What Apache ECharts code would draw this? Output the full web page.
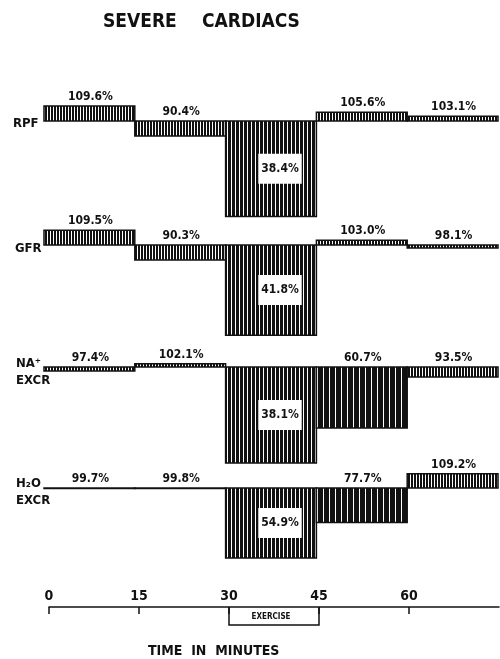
<!DOCTYPE html>
<html>
<head>
<meta charset="utf-8">
<script src="https://cdn.jsdelivr.net/npm/echarts@6/dist/echarts.min.js"></script>
<style>
  html, body { margin: 0; padding: 0; background: #fff; }
  #chart { width: 500px; height: 659px; }
</style>
</head>
<body>
<div id="chart"></div>
<script>
// time periods (minutes) and the measured % of control for each period
const timeEdges = [0, 15, 30, 45, 60, 75];
const timeTicks = [0, 15, 30, 45, 60];
const exercise = [30, 45];

const panelNames = ['RPF', 'GFR', 'NA⁺\nEXCR', 'H₂O\nEXCR'];
const rpf = [109.6, 90.4, 38.4, 105.6, 103.1];
const gfr = [109.5, 90.3, 41.8, 103.0, 98.1];
const naExcr = [97.4, 102.1, 38.1, 60.7, 93.5];
const h2oExcr = [99.7, 99.8, 54.9, 77.7, 109.2];
const panels = [rpf, gfr, naExcr, h2oExcr];

// layout
const baselines = [121, 245, 367, 488];
const pxPerPct = 1.55;
const yMin = 30, yMax = 115;
const FONT = '"DejaVu Sans Condensed", "Liberation Sans Narrow", sans-serif';

function stripes(period, black) {
  const c = document.createElement('canvas');
  c.width = period; c.height = 4;
  const ctx = c.getContext('2d');
  ctx.fillStyle = '#fff';
  ctx.fillRect(0, 0, period, 4);
  ctx.fillStyle = '#111';
  ctx.fillRect(0, 0, black, 4);
  return { image: c, repeat: 'repeat' };
}
const fillLight = stripes(3, 2);
const fillDark = stripes(4, 3);
const fillBlack = stripes(6, 5);

const chart = echarts.init(document.getElementById('chart'));

const grids = [], xAxes = [], yAxes = [], series = [], graphics = [];

panels.forEach((vals, i) => {
  grids.push({
    left: 44, right: 2,
    top: baselines[i] - (yMax - 100) * pxPerPct,
    height: (yMax - yMin) * pxPerPct
  });
  xAxes.push({ gridIndex: i, type: 'value', min: 0, max: 75, show: false });
  yAxes.push({ gridIndex: i, type: 'value', min: yMin, max: yMax, show: false });
  series.push({
    type: 'custom',
    xAxisIndex: i, yAxisIndex: i,
    data: vals.map((v, k) => [timeEdges[k], timeEdges[k + 1], v, k]),
    renderItem: function (params, api) {
      const s = api.value(0), e = api.value(1), v = api.value(2), k = api.value(3);
      const p0 = api.coord([s, 100]);
      const p1 = api.coord([e, v]);
      const y = Math.min(p0[1], p1[1]);
      const h = Math.max(Math.abs(p1[1] - p0[1]), 0.5);
      const dev = Math.abs(100 - v);
      let fill = fillLight;
      if (k === 3 && v < 100 && dev > 10) fill = fillBlack;
      else if (dev > 30) fill = fillDark;
      const big = dev > 30 && k === 2;
      const cx = (p0[0] + p1[0]) / 2;
      const label = v.toFixed(1) + '%';
      const txt = big ? {
        type: 'text',
        style: {
          text: label, x: cx + 9, y: y + h / 2,
          align: 'center', verticalAlign: 'middle',
          font: 'bold 12px ' + FONT, fill: '#111',
          backgroundColor: '#fff', padding: [9, 3]
        }
      } : {
        type: 'text',
        style: {
          text: label, x: cx + 1, y: Math.min(y, p0[1]) - 3,
          align: 'center', verticalAlign: 'bottom',
          font: 'bold 12px ' + FONT, fill: '#111'
        }
      };
      return {
        type: 'group',
        children: [
          {
            type: 'rect',
            shape: { x: p0[0], y: y, width: p1[0] - p0[0], height: h },
            style: { fill: fill, stroke: '#111', lineWidth: 1.5 }
          },
          txt
        ]
      };
    }
  });
});

// bottom time axis
grids.push({ left: 49, right: 1, top: 607, height: 18 });
xAxes.push({
  gridIndex: 4, type: 'value', min: 0, max: 75, interval: 15, position: 'top',
  axisLine: { onZero: false, lineStyle: { color: '#111', width: 1.5 } },
  axisTick: { customValues: timeTicks, inside: true, length: 7, lineStyle: { color: '#111', width: 1.5 } },
  axisLabel: {
    customValues: timeTicks, margin: 4, color: '#111',
    fontFamily: FONT, fontWeight: 'bold', fontSize: 14
  },
  splitLine: { show: false }
});
yAxes.push({ gridIndex: 4, type: 'value', min: 0, max: 1, show: false });
series.push({
  type: 'custom',
  xAxisIndex: 4, yAxisIndex: 4,
  data: [exercise],
  renderItem: function (params, api) {
    const a = api.coord([api.value(0), 1]);
    const b = api.coord([api.value(0), 0]);
    const c = api.coord([api.value(1), 0]);
    const d = api.coord([api.value(1), 1]);
    const m = api.coord([(api.value(0) + api.value(1)) / 2, 0.45]);
    return {
      type: 'group',
      children: [
        { type: 'polyline', shape: { points: [a, b, c, d] },
          style: { stroke: '#111', lineWidth: 1.5, fill: null } },
        { type: 'text', style: { text: 'EXERCISE', x: m[0] - 3, y: m[1],
          align: 'center', verticalAlign: 'middle',
          font: 'bold 8px ' + FONT, fill: '#111' } }
      ]
    };
  }
});

// titles and panel names
graphics.push({ type: 'text', left: 103, top: 13,
  style: { text: 'SEVERE', font: 'bold 19px ' + FONT, fill: '#111' } });
graphics.push({ type: 'text', left: 202, top: 13,
  style: { text: 'CARDIACS', font: 'bold 19px ' + FONT, fill: '#111' } });
graphics.push({ type: 'text', left: 148, top: 644,
  style: { text: 'TIME  IN  MINUTES', font: 'bold 14px ' + FONT, fill: '#111' } });

const nameTops = [115, 240, 355, 475];
const nameLefts = [13, 15, 16, 16];
panelNames.forEach((n, i) => {
  graphics.push({ type: 'text', left: nameLefts[i], top: nameTops[i],
    style: { text: n, font: 'bold 13px ' + FONT, fill: '#111', lineHeight: 17 } });
});

chart.setOption({
  animation: false,
  backgroundColor: '#fff',
  grid: grids,
  xAxis: xAxes,
  yAxis: yAxes,
  series: series,
  graphic: graphics
});
</script>
</body>
</html>
